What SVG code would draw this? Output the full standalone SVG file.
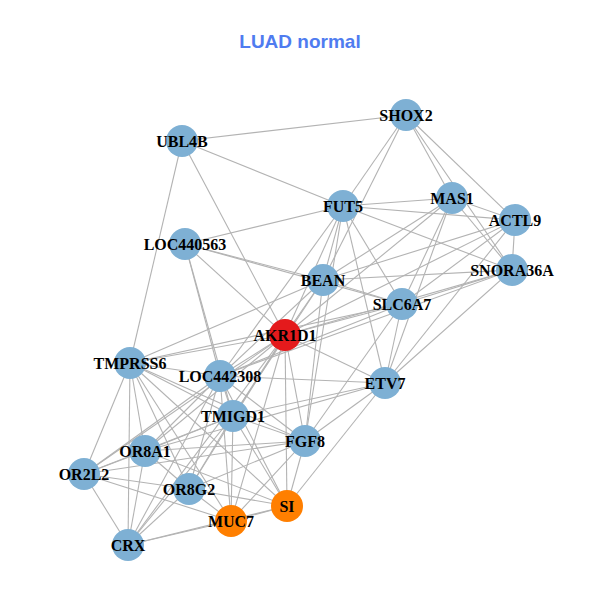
<svg xmlns="http://www.w3.org/2000/svg" width="600" height="600" viewBox="0 0 600 600">
<style>
.e{stroke:#b3b3b3;stroke-width:1.1;fill:none}
.n{stroke:none}
.b{fill:#7eb0d4}
.r{fill:#e41a1c}
.o{fill:#ff7f00}
.t{font-family:"Liberation Serif",serif;font-weight:bold;font-size:16px;text-anchor:middle;dominant-baseline:central;fill:#000}
.title{font-family:"Liberation Sans",Arial,sans-serif;font-weight:bold;font-size:19px;text-anchor:middle;fill:#4f7cf0}
</style>
<rect width="600" height="600" fill="#fff"/>
<text class="title" x="300" y="48">LUAD normal</text>
<g id="connectors">
<line class="e" x1="406" y1="115" x2="182" y2="141"/>
<line class="e" x1="406" y1="115" x2="343" y2="206"/>
<line class="e" x1="406" y1="115" x2="323" y2="280"/>
<line class="e" x1="406" y1="115" x2="452" y2="198"/>
<line class="e" x1="406" y1="115" x2="512" y2="270"/>
<line class="e" x1="406" y1="115" x2="515" y2="220"/>
<line class="e" x1="182" y1="141" x2="343" y2="206"/>
<line class="e" x1="182" y1="141" x2="130" y2="363"/>
<line class="e" x1="182" y1="141" x2="285" y2="335"/>
<line class="e" x1="343" y1="206" x2="452" y2="198"/>
<line class="e" x1="343" y1="206" x2="515" y2="220"/>
<line class="e" x1="343" y1="206" x2="512" y2="270"/>
<line class="e" x1="343" y1="206" x2="185" y2="244"/>
<line class="e" x1="343" y1="206" x2="323" y2="280"/>
<line class="e" x1="343" y1="206" x2="402" y2="304"/>
<line class="e" x1="343" y1="206" x2="385" y2="383"/>
<line class="e" x1="343" y1="206" x2="285" y2="335"/>
<line class="e" x1="343" y1="206" x2="220" y2="376"/>
<line class="e" x1="343" y1="206" x2="305" y2="441"/>
<line class="e" x1="452" y1="198" x2="515" y2="220"/>
<line class="e" x1="452" y1="198" x2="512" y2="270"/>
<line class="e" x1="452" y1="198" x2="402" y2="304"/>
<line class="e" x1="452" y1="198" x2="385" y2="383"/>
<line class="e" x1="452" y1="198" x2="323" y2="280"/>
<line class="e" x1="452" y1="198" x2="285" y2="335"/>
<line class="e" x1="515" y1="220" x2="512" y2="270"/>
<line class="e" x1="515" y1="220" x2="323" y2="280"/>
<line class="e" x1="515" y1="220" x2="402" y2="304"/>
<line class="e" x1="515" y1="220" x2="285" y2="335"/>
<line class="e" x1="515" y1="220" x2="385" y2="383"/>
<line class="e" x1="512" y1="270" x2="323" y2="280"/>
<line class="e" x1="512" y1="270" x2="402" y2="304"/>
<line class="e" x1="512" y1="270" x2="385" y2="383"/>
<line class="e" x1="512" y1="270" x2="285" y2="335"/>
<line class="e" x1="512" y1="270" x2="220" y2="376"/>
<line class="e" x1="185" y1="244" x2="323" y2="280"/>
<line class="e" x1="185" y1="244" x2="402" y2="304"/>
<line class="e" x1="185" y1="244" x2="220" y2="376"/>
<line class="e" x1="185" y1="244" x2="233" y2="416"/>
<line class="e" x1="185" y1="244" x2="285" y2="335"/>
<line class="e" x1="323" y1="280" x2="402" y2="304"/>
<line class="e" x1="323" y1="280" x2="285" y2="335"/>
<line class="e" x1="323" y1="280" x2="220" y2="376"/>
<line class="e" x1="323" y1="280" x2="305" y2="441"/>
<line class="e" x1="323" y1="280" x2="130" y2="363"/>
<line class="e" x1="323" y1="280" x2="233" y2="416"/>
<line class="e" x1="402" y1="304" x2="285" y2="335"/>
<line class="e" x1="402" y1="304" x2="385" y2="383"/>
<line class="e" x1="402" y1="304" x2="130" y2="363"/>
<line class="e" x1="402" y1="304" x2="220" y2="376"/>
<line class="e" x1="402" y1="304" x2="305" y2="441"/>
<line class="e" x1="385" y1="383" x2="285" y2="335"/>
<line class="e" x1="385" y1="383" x2="220" y2="376"/>
<line class="e" x1="385" y1="383" x2="233" y2="416"/>
<line class="e" x1="385" y1="383" x2="145" y2="451"/>
<line class="e" x1="385" y1="383" x2="287" y2="506"/>
<line class="e" x1="385" y1="383" x2="305" y2="441"/>
<line class="e" x1="285" y1="335" x2="130" y2="363"/>
<line class="e" x1="285" y1="335" x2="220" y2="376"/>
<line class="e" x1="285" y1="335" x2="233" y2="416"/>
<line class="e" x1="285" y1="335" x2="145" y2="451"/>
<line class="e" x1="285" y1="335" x2="84" y2="474"/>
<line class="e" x1="285" y1="335" x2="189" y2="489"/>
<line class="e" x1="285" y1="335" x2="128" y2="545"/>
<line class="e" x1="285" y1="335" x2="231" y2="521"/>
<line class="e" x1="285" y1="335" x2="287" y2="506"/>
<line class="e" x1="285" y1="335" x2="305" y2="441"/>
<line class="e" x1="130" y1="363" x2="220" y2="376"/>
<line class="e" x1="130" y1="363" x2="233" y2="416"/>
<line class="e" x1="130" y1="363" x2="145" y2="451"/>
<line class="e" x1="130" y1="363" x2="84" y2="474"/>
<line class="e" x1="130" y1="363" x2="189" y2="489"/>
<line class="e" x1="130" y1="363" x2="128" y2="545"/>
<line class="e" x1="130" y1="363" x2="231" y2="521"/>
<line class="e" x1="130" y1="363" x2="287" y2="506"/>
<line class="e" x1="130" y1="363" x2="305" y2="441"/>
<line class="e" x1="220" y1="376" x2="233" y2="416"/>
<line class="e" x1="220" y1="376" x2="145" y2="451"/>
<line class="e" x1="220" y1="376" x2="84" y2="474"/>
<line class="e" x1="220" y1="376" x2="189" y2="489"/>
<line class="e" x1="220" y1="376" x2="128" y2="545"/>
<line class="e" x1="220" y1="376" x2="231" y2="521"/>
<line class="e" x1="220" y1="376" x2="287" y2="506"/>
<line class="e" x1="220" y1="376" x2="305" y2="441"/>
<line class="e" x1="233" y1="416" x2="145" y2="451"/>
<line class="e" x1="233" y1="416" x2="84" y2="474"/>
<line class="e" x1="233" y1="416" x2="189" y2="489"/>
<line class="e" x1="233" y1="416" x2="128" y2="545"/>
<line class="e" x1="233" y1="416" x2="231" y2="521"/>
<line class="e" x1="233" y1="416" x2="287" y2="506"/>
<line class="e" x1="233" y1="416" x2="305" y2="441"/>
<line class="e" x1="145" y1="451" x2="84" y2="474"/>
<line class="e" x1="145" y1="451" x2="189" y2="489"/>
<line class="e" x1="145" y1="451" x2="128" y2="545"/>
<line class="e" x1="145" y1="451" x2="305" y2="441"/>
<line class="e" x1="145" y1="451" x2="287" y2="506"/>
<line class="e" x1="84" y1="474" x2="128" y2="545"/>
<line class="e" x1="84" y1="474" x2="189" y2="489"/>
<line class="e" x1="84" y1="474" x2="231" y2="521"/>
<line class="e" x1="84" y1="474" x2="305" y2="441"/>
<line class="e" x1="189" y1="489" x2="231" y2="521"/>
<line class="e" x1="189" y1="489" x2="287" y2="506"/>
<line class="e" x1="189" y1="489" x2="128" y2="545"/>
<line class="e" x1="189" y1="489" x2="305" y2="441"/>
<line class="e" x1="128" y1="545" x2="231" y2="521"/>
<line class="e" x1="128" y1="545" x2="287" y2="506"/>
<line class="e" x1="231" y1="521" x2="287" y2="506"/>
<line class="e" x1="231" y1="521" x2="305" y2="441"/>
<line class="e" x1="287" y1="506" x2="305" y2="441"/>
</g>
<g id="SHOX2"><circle class="n b" cx="406" cy="115" r="16"/><text class="t" x="406" y="115">SHOX2</text></g>
<g id="UBL4B"><circle class="n b" cx="182" cy="141" r="16"/><text class="t" x="182" y="141">UBL4B</text></g>
<g id="FUT5"><circle class="n b" cx="343" cy="206" r="16"/><text class="t" x="343" y="206">FUT5</text></g>
<g id="MAS1"><circle class="n b" cx="452" cy="198" r="16"/><text class="t" x="452" y="198">MAS1</text></g>
<g id="ACTL9"><circle class="n b" cx="515" cy="220" r="16"/><text class="t" x="515" y="220">ACTL9</text></g>
<g id="LOC440563"><circle class="n b" cx="185" cy="244" r="16"/><text class="t" x="185" y="244">LOC440563</text></g>
<g id="BEAN"><circle class="n b" cx="323" cy="280" r="16"/><text class="t" x="323" y="280">BEAN</text></g>
<g id="SNORA36A"><circle class="n b" cx="512" cy="270" r="16"/><text class="t" x="512" y="270">SNORA36A</text></g>
<g id="SLC6A7"><circle class="n b" cx="402" cy="304" r="16"/><text class="t" x="402" y="304">SLC6A7</text></g>
<g id="AKR1D1"><circle class="n r" cx="285" cy="335" r="16"/><text class="t" x="285" y="335">AKR1D1</text></g>
<g id="TMPRSS6"><circle class="n b" cx="130" cy="363" r="16"/><text class="t" x="130" y="363">TMPRSS6</text></g>
<g id="LOC442308"><circle class="n b" cx="220" cy="376" r="16"/><text class="t" x="220" y="376">LOC442308</text></g>
<g id="ETV7"><circle class="n b" cx="385" cy="383" r="16"/><text class="t" x="385" y="383">ETV7</text></g>
<g id="TMIGD1"><circle class="n b" cx="233" cy="416" r="16"/><text class="t" x="233" y="416">TMIGD1</text></g>
<g id="OR8A1"><circle class="n b" cx="145" cy="451" r="16"/><text class="t" x="145" y="451">OR8A1</text></g>
<g id="FGF8"><circle class="n b" cx="305" cy="441" r="16"/><text class="t" x="305" y="441">FGF8</text></g>
<g id="OR2L2"><circle class="n b" cx="84" cy="474" r="16"/><text class="t" x="84" y="474">OR2L2</text></g>
<g id="OR8G2"><circle class="n b" cx="189" cy="489" r="16"/><text class="t" x="189" y="489">OR8G2</text></g>
<g id="SI"><circle class="n o" cx="287" cy="506" r="16"/><text class="t" x="287" y="506">SI</text></g>
<g id="MUC7"><circle class="n o" cx="231" cy="521" r="16"/><text class="t" x="231" y="521">MUC7</text></g>
<g id="CRX"><circle class="n b" cx="128" cy="545" r="16"/><text class="t" x="128" y="545">CRX</text></g>
</svg>
